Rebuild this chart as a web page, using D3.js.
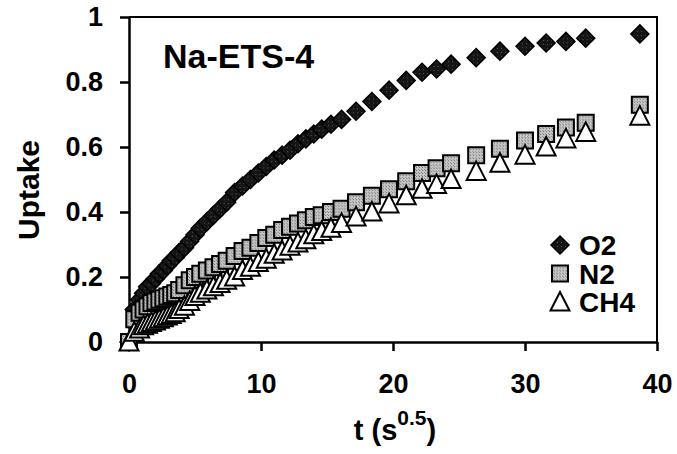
<!DOCTYPE html>
<html>
<head>
<meta charset="utf-8">
<script src="https://cdn.jsdelivr.net/npm/d3@7"></script>
<style>
  body { margin: 0; background: #fff; }
  text { font-family: "Liberation Sans", Arial, sans-serif; font-weight: bold; fill: #000; }
</style>
</head>
<body>
<div id="chart"></div>
<script>
// sqrt(time) values shared by the three gases
const tValues = [0, 0.4, 0.8, 1.1, 1.4, 1.7, 2.0, 2.3, 2.6, 2.9, 3.2, 3.5, 3.8, 4.2, 4.6, 5.0,
    5.4, 5.9, 6.4, 6.9, 7.4, 8.0, 8.6, 9.2, 9.8, 10.4, 11.0, 11.6, 12.2, 12.8, 13.4, 14.0,
    14.6, 15.3, 16.1, 17.2, 18.4, 19.7, 21.0, 22.2, 23.3, 24.4, 26.3, 28.1, 30.0, 31.6,
    33.1, 34.6, 38.7];
const o2Uptake = [0, 0.10, 0.13, 0.15, 0.17, 0.18, 0.195, 0.21, 0.22, 0.235, 0.25, 0.26, 0.275,
    0.29, 0.31, 0.33, 0.35, 0.37, 0.39, 0.41, 0.43, 0.46, 0.48, 0.50, 0.52, 0.54, 0.56, 0.575,
    0.59, 0.61, 0.625, 0.64, 0.655, 0.67, 0.685, 0.71, 0.74, 0.775, 0.805, 0.83, 0.84, 0.855,
    0.875, 0.895, 0.91, 0.92, 0.925, 0.935, 0.948];
const n2Uptake = [0, 0.07, 0.09, 0.10, 0.11, 0.12, 0.125, 0.13, 0.135, 0.14, 0.145, 0.15, 0.16,
    0.175, 0.19, 0.20, 0.21, 0.22, 0.23, 0.24, 0.25, 0.265, 0.28, 0.29, 0.305, 0.32, 0.33, 0.345,
    0.355, 0.365, 0.375, 0.385, 0.39, 0.40, 0.41, 0.43, 0.45, 0.47, 0.495, 0.52, 0.535, 0.55,
    0.575, 0.595, 0.62, 0.64, 0.66, 0.675, 0.73];
const ch4Uptake = [0, 0.03, 0.04, 0.05, 0.055, 0.06, 0.065, 0.07, 0.075, 0.08, 0.085, 0.09, 0.10,
    0.11, 0.125, 0.14, 0.15, 0.16, 0.17, 0.18, 0.19, 0.20, 0.22, 0.23, 0.245, 0.255, 0.27, 0.28,
    0.295, 0.305, 0.315, 0.33, 0.34, 0.35, 0.365, 0.385, 0.40, 0.425, 0.45, 0.47, 0.485, 0.50,
    0.525, 0.55, 0.575, 0.60, 0.625, 0.645, 0.695];
const seriesNames = ["O2", "N2", "CH4"];
const xTicks = [0, 10, 20, 30, 40];
const yTicks = [0, 0.2, 0.4, 0.6, 0.8, 1];

const width = 677, height = 454;
const svg = d3.select("#chart").append("svg")
    .attr("width", width)
    .attr("height", height);

const x = d3.scaleLinear().domain([0, 40]).range([129, 657]);
const y = d3.scaleLinear().domain([0, 1]).range([342, 17]);

// speckled fills like the scanned markers
const defs = svg.append("defs");
const grey = defs.append("pattern").attr("id", "greyDots")
    .attr("patternUnits", "userSpaceOnUse").attr("width", 3).attr("height", 3);
grey.append("rect").attr("width", 3).attr("height", 3).attr("fill", "#c6c6c6");
grey.append("rect").attr("width", 1).attr("height", 1).attr("fill", "#707070");
grey.append("rect").attr("x", 2).attr("y", 2).attr("width", 1).attr("height", 1).attr("fill", "#8a8a8a");
const dark = defs.append("pattern").attr("id", "darkDots")
    .attr("patternUnits", "userSpaceOnUse").attr("width", 4).attr("height", 4);
dark.append("rect").attr("width", 4).attr("height", 4).attr("fill", "#151515");
dark.append("rect").attr("x", 1).attr("y", 1).attr("width", 1).attr("height", 1).attr("fill", "#5a5a5a");

const shapes = {
    O2: "M0,-9L9,0L0,9L-9,0Z",
    N2: "M-8,-8H8V8H-8Z",
    CH4: "M0,-10L9.5,8.5L-9.5,8.5Z"
};
const styles = {
    O2: {fill: "url(#darkDots)", stroke: "#000", width: 1.5},
    N2: {fill: "url(#greyDots)", stroke: "#000", width: 2},
    CH4: {fill: "#fff", stroke: "#000", width: 2}
};

// axes
const xAxis = svg.append("g")
    .attr("transform", `translate(0,${y(0)})`)
    .call(d3.axisBottom(x).tickValues(xTicks).tickSize(9).tickSizeOuter(0).tickPadding(23));
const yAxis = svg.append("g")
    .attr("transform", `translate(${x(0)},0)`)
    .call(d3.axisLeft(y).tickValues(yTicks).tickSize(9).tickSizeOuter(0).tickPadding(17)
        .tickFormat(d => String(d)));
[xAxis, yAxis].forEach(g => {
    g.selectAll("path.domain").attr("stroke", "#000").attr("stroke-width", 2.5);
    g.selectAll(".tick line").attr("stroke", "#000").attr("stroke-width", 2.5);
    g.selectAll(".tick text").style("font-size", "27px")
        .style("font-family", "'Liberation Sans', Arial, sans-serif").style("font-weight", "bold");
});

// top and right frame
svg.append("path")
    .attr("d", `M${x(0)},${y(1)}H${x(40)}V${y(0)}`)
    .attr("fill", "none").attr("stroke", "#000").attr("stroke-width", 2);

// series, CH4 drawn last so its triangles sit on top
const seriesData = {O2: o2Uptake, N2: n2Uptake, CH4: ch4Uptake};
seriesNames.forEach(name => {
    svg.append("g").selectAll("path")
        .data(tValues.map((t, i) => ({t: t, u: seriesData[name][i]})))
        .enter().append("path")
        .attr("d", shapes[name])
        .attr("transform", d => `translate(${x(d.t)},${y(d.u)})`)
        .attr("fill", styles[name].fill)
        .attr("stroke", styles[name].stroke)
        .attr("stroke-width", styles[name].width)
        .attr("stroke-linejoin", "miter");
});

// legend
const legend = svg.append("g").attr("transform", "translate(560,245)");
seriesNames.forEach((name, i) => {
    legend.append("path")
        .attr("d", shapes[name])
        .attr("transform", `translate(0,${i * 28.5})`)
        .attr("fill", styles[name].fill)
        .attr("stroke", styles[name].stroke)
        .attr("stroke-width", styles[name].width);
    legend.append("text")
        .attr("x", 19)
        .attr("y", i * 28.5 + 10)
        .style("font-size", "28px")
        .text(name);
});

// title inside the plot
svg.append("text")
    .attr("x", 163).attr("y", 68)
    .style("font-size", "34px")
    .text("Na-ETS-4");

// axis titles
svg.append("text")
    .attr("transform", "translate(39,190) rotate(-90)")
    .attr("text-anchor", "middle")
    .style("font-size", "30px")
    .text("Uptake");

const xTitle = svg.append("text")
    .attr("x", x(20) + 2).attr("y", 440)
    .attr("text-anchor", "middle")
    .style("font-size", "29px");
xTitle.append("tspan").text("t (s");
xTitle.append("tspan").attr("dy", -15).style("font-size", "21px").text("0.5");
xTitle.append("tspan").attr("dy", 15).text(")");
</script>
</body>
</html>
